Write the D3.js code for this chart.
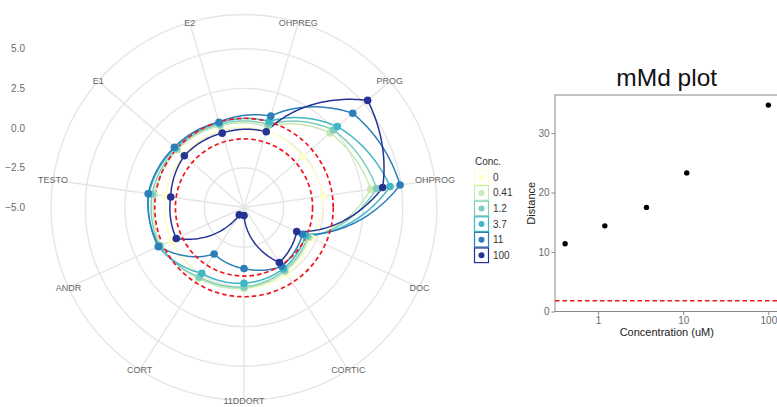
<!DOCTYPE html>
<html><head><meta charset="utf-8">
<script src="https://cdn.jsdelivr.net/npm/d3@7"></script>
<style>body{margin:0;background:#fff}svg{display:block;font-family:"Liberation Sans",Arial,Helvetica,sans-serif}</style>
</head><body>
<svg id="c" width="777" height="407"></svg>
<script>
// ---- data ----
const axes = ["E2","OHPREG","PROG","OHPROG","DOC","CORTIC","11DDORT","CORT","ANDR","TESTO","E1"];
const concLabels = ["0","0.41","1.2","3.7","11","100"];
const concColors = ["#ffffcc","#c7e9b4","#7fcdbb","#41b6c4","#2c7fb8","#253494"];
const conc0   = [0.10, 0.00, -0.10, 0.05, -0.35, 0.00, 0.10, 0.10, 0.00, 0.00, 0.05];
const conc041 = [0.35, 0.30, 2.17, 3.06, -0.50, -0.20, 0.10, 0.30, 0.75, 0.70, 0.55];
const conc12  = [0.45, 0.45, 2.45, 3.44, -0.60, -0.30, 0.00, 0.20, 0.85, 0.85, 0.65];
const conc37  = [0.55, 0.65, 2.78, 4.29, -0.75, -0.42, -0.23, -0.08, 0.95, 1.05, 0.75];
const conc11  = [0.60, 1.00, 4.06, 4.93, -0.95, -0.60, -1.16, -1.52, 0.90, 1.10, 0.80];
const conc100 = [-0.12, -0.03, 5.30, 3.82, -1.35, -0.88, -4.50, -4.45, -0.31, -0.34, -0.03];
const rTicks = [-5.0, -2.5, 0.0, 2.5, 5.0];
const controlBand = [-0.68, 0.62];

const mmdConc = [0.41, 1.2, 3.7, 11, 100];
const mmdDist = [11.4, 14.4, 17.5, 23.3, 34.7];
const mmdThreshold = 1.8;
const mmdYTicks = [0, 10, 20, 30];
const mmdXTicks = [1, 10, 100];

const seriesValues = [conc0, conc041, conc12, conc37, conc11, conc100];

// ---- radar ----
const svg = d3.select("#c");
const cx = 244, cy = 207.5;
const n = axes.length;
const step = 2 * Math.PI / n;
const theta = d3.scaleLinear().domain([0, n]).range([Math.PI - 6 * step, Math.PI + 5 * step]);
const rScale = d3.scaleLinear().domain([-5, 5.8]).range([0, 171.5]);
const rOuter = rScale.range()[1] * 0.45 / 0.4;
const px = (t, r) => cx + r * Math.sin(theta(t));
const py = (t, r) => cy - r * Math.cos(theta(t));

const grid = svg.append("g");
const gridCol = "#e6e6e6";
[...rTicks.slice(1).map(v => rScale(v)), rOuter].forEach(r => {
  grid.append("circle").attr("cx", cx).attr("cy", cy).attr("r", r)
    .attr("fill", "none").attr("stroke", gridCol).attr("stroke-width", 1.4);
});
axes.forEach((a, i) => {
  grid.append("line").attr("x1", cx).attr("y1", cy)
    .attr("x2", px(i, rOuter)).attr("y2", py(i, rOuter))
    .attr("stroke", gridCol).attr("stroke-width", 1.4);
});
// radial axis labels (left)
rTicks.forEach(v => {
  svg.append("text").attr("x", 25).attr("y", cy - rScale(v)).attr("dy", "0.35em")
    .attr("text-anchor", "end").attr("font-size", 10).attr("fill", "#6a6a6a")
    .text(d3.format(".1f")(v));
});
// theta labels
axes.forEach((a, i) => {
  svg.append("text").attr("x", px(i, rOuter)).attr("y", py(i, rOuter)).attr("dy", "0.35em")
    .attr("text-anchor", "middle").attr("font-size", 9).attr("fill", "#666").text(a);
});

// series lines (coord_polar style interpolation)
const line = d3.line().x(d => d[0]).y(d => d[1]);
const sub = 40;
seriesValues.forEach((vals, s) => {
  const pts = [];
  for (let i = 0; i < n; i++) {
    const v1 = vals[i], v2 = vals[(i + 1) % n];
    for (let k = 0; k < sub; k++) {
      const f = k / sub;
      const r = rScale(v1 + (v2 - v1) * f);
      pts.push([px(i + f, r), py(i + f, r)]);
    }
  }
  pts.push(pts[0]);
  svg.append("path").attr("d", line(pts)).attr("fill", "none")
    .attr("stroke", concColors[s]).attr("stroke-width", 1.5);
});
// control band
controlBand.forEach(v => {
  svg.append("circle").attr("cx", cx).attr("cy", cy).attr("r", rScale(v))
    .attr("fill", "none").attr("stroke", "#f0141e").attr("stroke-width", 1.7)
    .attr("stroke-dasharray", "4.5,3");
});
// points
seriesValues.forEach((vals, s) => {
  vals.forEach((v, i) => {
    svg.append("circle").attr("cx", px(i, rScale(v))).attr("cy", py(i, rScale(v)))
      .attr("r", 3.8).attr("fill", concColors[s]);
  });
});

// legend
const lg = svg.append("g").attr("transform", "translate(474,0)");
lg.append("text").attr("x", 1).attr("y", 165).attr("font-size", 10).attr("fill", "#333").text("Conc.");
concLabels.forEach((lab, i) => {
  const y0 = 170 + i * 15.6;
  lg.append("rect").attr("x", 0.5).attr("y", y0).attr("width", 14).attr("height", 14.6)
    .attr("fill", "#fff").attr("stroke", concColors[i]).attr("stroke-width", 1.2);
  lg.append("circle").attr("cx", 7.5).attr("cy", y0 + 7.3).attr("r", 3).attr("fill", concColors[i]);
  lg.append("text").attr("x", 19).attr("y", y0 + 7.3).attr("dy", "0.35em")
    .attr("font-size", 10).attr("fill", "#333").text(lab);
});

// ---- mMd plot ----
const pL = 555, pR = 778.5, pT = 95, pB = 311.5;
const x = d3.scaleLog().domain([Math.pow(10, -0.506), Math.pow(10, 2.119)]).range([pL, pR]);
const y = d3.scaleLinear().domain([0, 36.4]).range([pB, pT]);
svg.append("rect").attr("x", pL).attr("y", pT).attr("width", pR - pL).attr("height", pB - pT)
  .attr("fill", "none").attr("stroke", "#8a8a8a").attr("stroke-width", 1);
const xAxis = svg.append("g").attr("transform", `translate(0,${pB})`)
  .call(d3.axisBottom(x).tickValues(mmdXTicks).tickFormat(d3.format("d")).tickSize(3.5).tickPadding(2));
const yAxis = svg.append("g").attr("transform", `translate(${pL},0)`)
  .call(d3.axisLeft(y).tickValues(mmdYTicks).tickSize(3.5).tickPadding(2));
[xAxis, yAxis].forEach(a => {
  a.select(".domain").remove();
  a.selectAll("line").attr("stroke", "#8a8a8a");
  a.selectAll("text").attr("fill", "#6a6a6a").attr("font-size", 10)
    .attr("font-family", '"Liberation Sans",Arial,sans-serif');
});
svg.append("line").attr("x1", pL).attr("x2", pR).attr("y1", y(mmdThreshold)).attr("y2", y(mmdThreshold))
  .attr("stroke", "#f0141e").attr("stroke-width", 1.5).attr("stroke-dasharray", "4.5,3");
mmdConc.forEach((c, i) => {
  svg.append("circle").attr("cx", x(c)).attr("cy", y(mmdDist[i])).attr("r", 2.7).attr("fill", "#000");
});
svg.append("text").attr("x", (pL + pR) / 2).attr("y", 86).attr("text-anchor", "middle")
  .attr("font-size", 24.5).attr("fill", "#111").text("mMd plot");
svg.append("text").attr("x", (pL + pR) / 2).attr("y", 336).attr("text-anchor", "middle")
  .attr("font-size", 11).attr("fill", "#222").text("Concentration (uM)");
svg.append("text").attr("transform", `translate(535,${(pT + pB) / 2}) rotate(-90)`)
  .attr("text-anchor", "middle").attr("font-size", 11).attr("fill", "#222").text("Distance");
</script>
</body></html>
